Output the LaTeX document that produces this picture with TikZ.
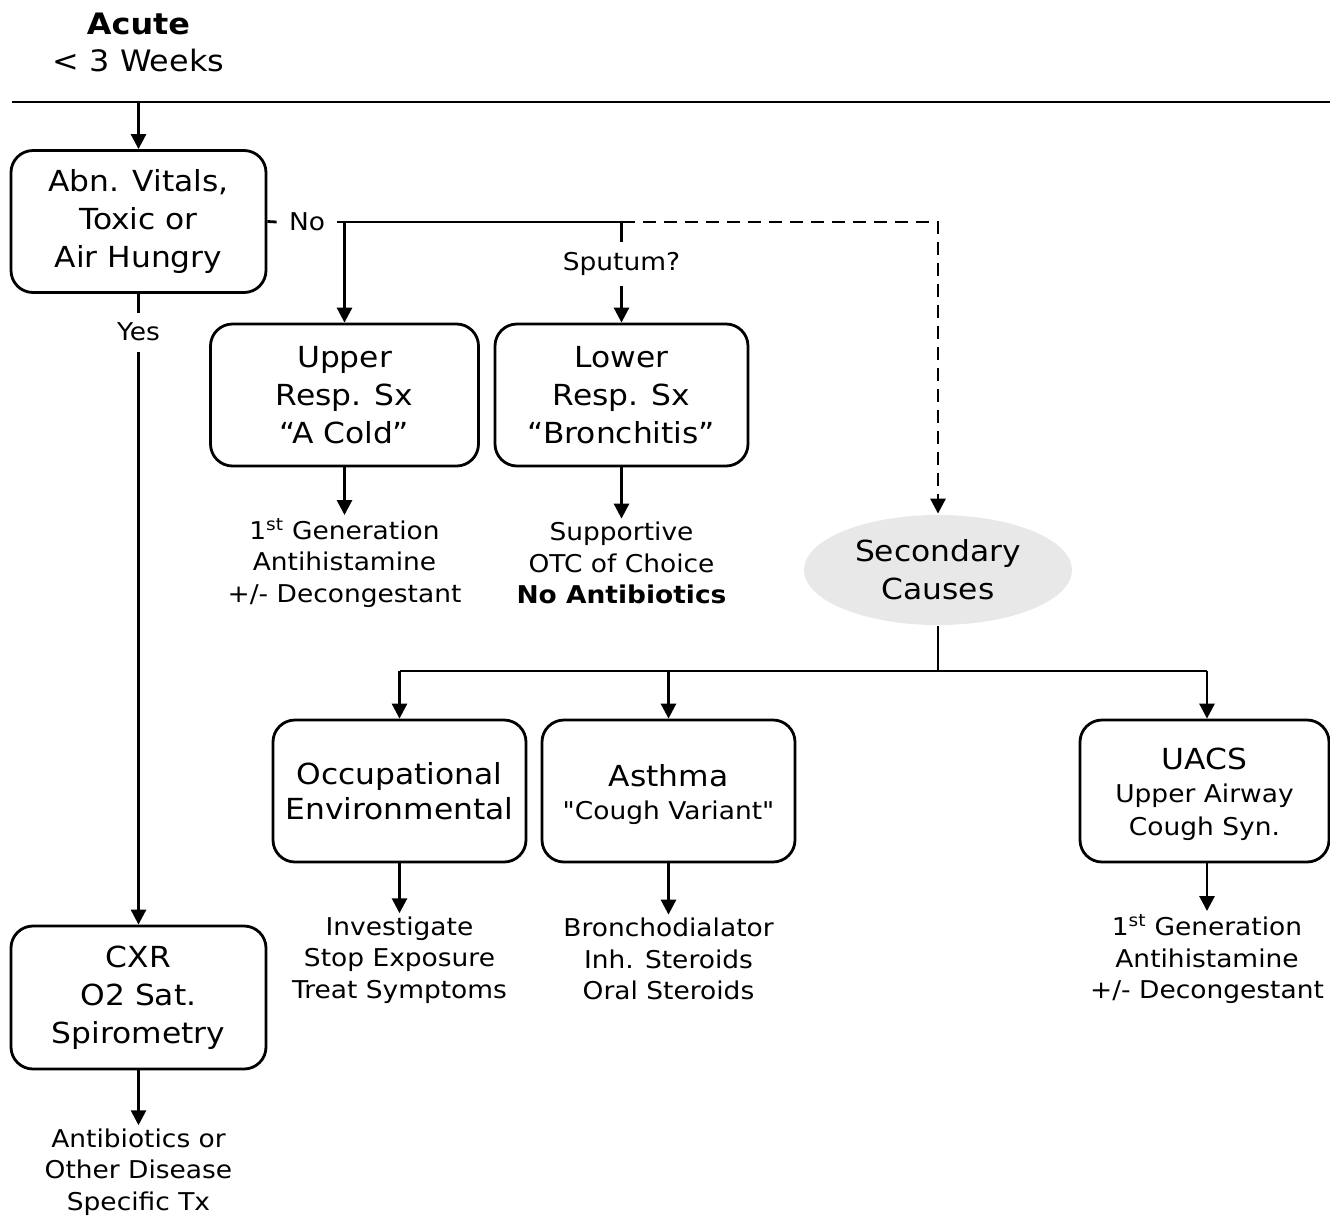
\documentclass[tikz,border=0pt]{standalone}
\usepackage{fontspec}
\setmainfont{DejaVu Sans}[FakeStretch=1.08]
\newfontfamily\rawf{DejaVu Sans}[FakeStretch=1.08]
\usetikzlibrary{shapes.geometric,arrows.meta}
\definecolor{ellgray}{RGB}{232,232,232}
\newcommand{\bigf}{\fontsize{29}{38}\selectfont}
\newcommand{\smlf}{\fontsize{24.5}{31.5}\selectfont}
\begin{document}
\begin{tikzpicture}[x=1pt,y=-1pt,
  line width=2.8pt,
  big/.style={font=\bigf},
  sml/.style={font=\smlf},
  box/.style={draw,line width=2.8pt,rounded corners=22pt,align=center,inner sep=1pt,
     minimum height=142pt,big},
  lbl/.style={align=center,sml,inner sep=2pt},
  arr/.style={-{Triangle[width=15pt,length=15pt]}},
  ell/.style={ellipse,fill=ellgray,draw=none,minimum width=268pt,minimum height=110pt,inner sep=0pt,align=center,big}
]
\useasboundingbox (0,0) rectangle (1330,1219);

% title
\node[font=\fontsize{29.5}{37}\selectfont,align=center] (title) at (138.5,42) {\textbf{Acute}\\< 3 Weeks};
\coordinate (tl) at (12,102);
\coordinate (tr) at (1330,102);
\draw (tl) -- (tr);
\coordinate (ttop) at (138.5,102);

% boxes
\node[box,minimum width=255pt] (abn) at (138.5,221.5) {Abn. Vitals,\\Toxic or\\Air Hungry};
\node[box,minimum width=268pt] (upper) at (344.5,395) {Upper\\Resp. Sx\\“A Cold”};
\node[box,minimum width=253pt] (lower) at (621.5,395) {Lower\\Resp. Sx\\“Bronchitis”};
\node[ell] (sec) at (938,570) {Secondary\\Causes};
\node[box,minimum width=253pt,font=\fontsize{29}{35}\selectfont] (occ) at (399.5,791) {Occupational\\Environmental};
\node[box,minimum width=253pt,font=\fontsize{24.5}{33}\selectfont] (asth) at (668.5,791) {{\bigf\rule{0pt}{30pt}Asthma}\\{\rawf "Cough Variant"}};
\node[box,minimum width=249pt,font=\fontsize{24.5}{33}\selectfont] (uacs) at (1204.5,791) {{\bigf\rule{0pt}{28pt}UACS}\\Upper Airway\\Cough Syn.};
\node[box,minimum width=255pt,minimum height=143pt] (cxr) at (138.5,997.5) {CXR\\O2 Sat.\\Spirometry};

% small labels
\node[lbl,inner xsep=11pt] (no) at (307,222) {No};
\node[lbl,inner ysep=9pt] (yes) at (138.5,332) {Yes};
\node[lbl,inner ysep=9pt] (sput) at (621.5,264) {Sputum?};

\node[lbl] (t1) at (344.5,563) {1\textsuperscript{st} Generation\\Antihistamine\\+/- Decongestant};
\node[lbl] (t2) at (621.5,563) {Supportive\\OTC of Choice\\\textbf{No Antibiotics}};
\node[lbl] (t3) at (399.5,960) {Investigate\\Stop Exposure\\Treat Symptoms};
\node[lbl] (t4) at (668.5,959) {Bronchodialator\\Inh. Steroids\\Oral Steroids};
\node[lbl] (t5) at (1207,959) {1\textsuperscript{st} Generation\\Antihistamine\\+/- Decongestant};
\node[lbl] (t6) at (138.5,1172) {Antibiotics or\\Other Disease\\Specific Tx};

% connectors
\draw[arr] (ttop) -- (abn.north);
\draw (abn.east) -- (no.west);
\coordinate (j1) at (344.5,222);
\coordinate (j2) at (621.5,222);
\coordinate (j3) at (938,222);
\draw (no.east) -- (j1) -- (j2);
\draw[arr] (j1) -- (upper.north);
\draw (j2) -- (sput.north);
\draw[arr] (sput.south) -- (lower.north);
\draw[arr,dash pattern=on 13pt off 8pt] (j2) -- (j3) -- (sec.north);

\draw[arr] (upper.south) -- (t1.north);
\draw[arr] (lower.south) -- (t2.north);

\draw (abn.south) -- (yes.north);
\draw[arr] (yes.south) -- (cxr.north);
\draw[arr] (cxr.south) -- (t6.north);

\coordinate (k0) at (938,671);
\coordinate (k1) at (399.5,671);
\coordinate (k2) at (668.5,671);
\coordinate (k3) at (1207,671);
\draw (sec.south) -- (k0);
\draw (k1) -- (k3);
\draw[arr] (k1) -- (occ.north);
\draw[arr] (k2) -- (asth.north);
\draw[arr] (k3) -- (k3 |- uacs.north);

\draw[arr] (occ.south) -- (t3.north);
\draw[arr] (asth.south) -- (t4.north);
\draw[arr] (k3 |- uacs.south) -- (t5.north);
\end{tikzpicture}
\end{document}
